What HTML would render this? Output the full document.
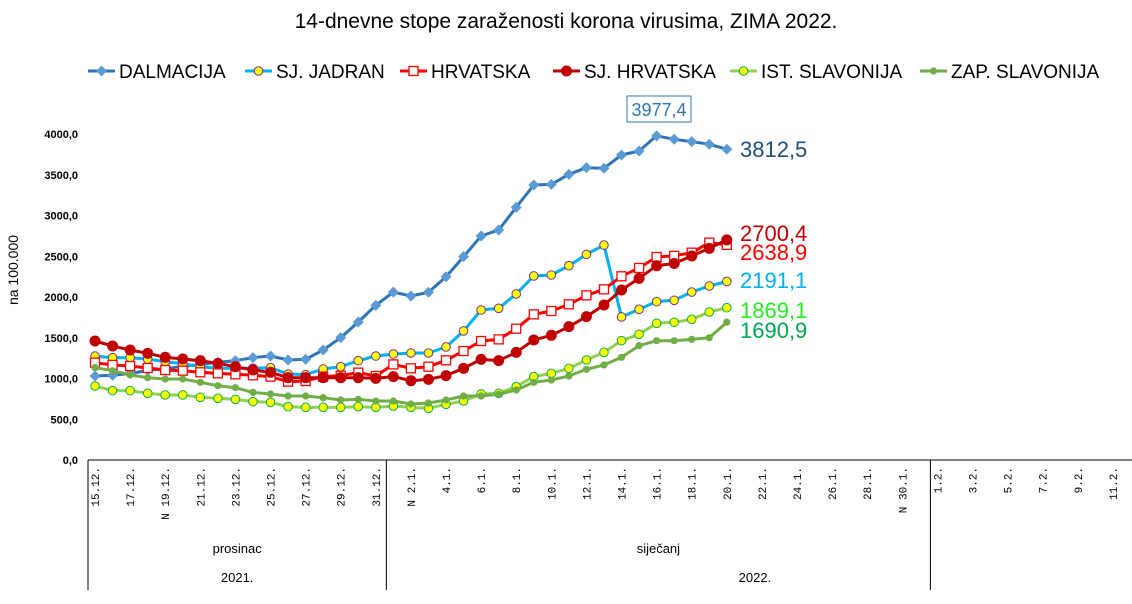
<!DOCTYPE html>
<html><head><meta charset="utf-8"><style>
html,body{margin:0;padding:0;background:#fff;}
svg{display:block;font-family:"Liberation Sans",sans-serif;}
</style></head><body>
<svg id="chart" width="1132" height="604" viewBox="0 0 1132 604">
<text x="566" y="28" font-size="21" text-anchor="middle" fill="#000">14-dnevne stope zaraženosti korona virusima, ZIMA 2022.</text>
<g id="legend"></g>
<g id="yaxis"></g>
<text transform="translate(18,270) rotate(-90)" font-size="14" text-anchor="middle">na 100.000</text>
<g id="xaxis"></g>
<g id="series"></g>
<g id="labels"></g>
</svg>
<script>
const dalmacija=[1031,1040,1060,1100,1120,1150,1170,1200,1219,1256,1276,1227,1235,1350,1501,1693,1898,2060,2012,2058,2249,2495,2748,2822,3100,3374,3382,3505,3587,3580,3742,3791,3977.4,3935,3907,3875,3812.5];
const sjJadran=[1276,1255,1255,1239,1206,1180,1145,1125,1125,1125,1133,1055,1047,1117,1145,1219,1276,1300,1313,1313,1387,1583,1840,1861,2037,2258,2270,2384,2523,2638,1755,1849,1943,1959,2061,2135,2191.1];
const hrvatska=[1194,1166,1153,1129,1104,1096,1076,1063,1051,1039,1023,961,969,1023,1035,1072,1031,1173,1125,1145,1223,1337,1460,1480,1611,1787,1828,1910,2020,2094,2254,2356,2491,2505,2544,2667,2638.9];
const sjHrvatska=[1460,1399,1350,1309,1260,1239,1219,1186,1145,1104,1076,1010,1010,1010,1010,1010,1002,1023,973,990,1035,1125,1235,1219,1321,1472,1530,1636,1759,1902,2086,2229,2384,2411,2503,2597,2700.4];
const istSlavonija=[908,851,851,818,798,798,769,757,744,716,708,654,646,646,646,654,646,662,646,634,683,724,810,818,900,1023,1063,1125,1227,1321,1464,1542,1677,1690,1726,1816,1869.1];
const zapSlavonija=[1133,1096,1043,1010,994,994,953,912,887,830,810,785,785,765,736,744,724,724,687,699,736,785,785,806,859,953,981,1031,1113,1166,1260,1403,1464,1464,1480,1501,1690.9];
const tickLabels=["15.12.","17.12.","N 19.12.","21.12.","23.12.","25.12.","27.12.","29.12.","31.12.","N  2.1.","4.1.","6.1.","8.1.","10.1.","12.1.","14.1.","16.1.","18.1.","20.1.","22.1.","24.1.","26.1.","28.1.","N 30.1.","1.2.","3.2.","5.2.","7.2.","9.2.","11.2."];
const yTicks=[0,500,1000,1500,2000,2500,3000,3500,4000];
const months=["prosinac","siječanj",""];
const monthDays=[17,31,28];
const years=["2021.","2022."];
const yearDays=[17,59];

const NS="http://www.w3.org/2000/svg";
const X0=88, DX=17.55, Y0=460, KY=0.0815;
const xs=i=>X0+DX*(i+0.4);
const ys=v=>Y0-v*KY;
function mk(tag,attrs,parent,txt){const e=document.createElementNS(NS,tag);for(const k in attrs)e.setAttribute(k,attrs[k]);if(txt!==undefined)e.textContent=txt;parent.appendChild(e);return e;}

const yg=document.getElementById('yaxis');
yTicks.forEach(v=>{const t=mk('text',{x:78,y:ys(v)+4,'font-size':11,'font-weight':'bold','text-anchor':'end'},yg,v.toFixed(1).replace('.',','));

});

const xg=document.getElementById('xaxis');
const al=mk('line',{x1:X0,y1:Y0,x2:1132,y2:Y0,stroke:'#000','stroke-width':1},xg);


tickLabels.forEach((l,k)=>{const x=xs(k*2)+4;const t=mk('text',{transform:`translate(${x},467) rotate(-90)`,'font-size':11,'font-family':'Liberation Mono, monospace','text-anchor':'end',fill:'#000','xml:space':'preserve'},xg,l);

});
let acc=0;
monthDays.forEach((d,k)=>{const xa=X0+acc*DX;acc+=d;const xb=X0+acc*DX;
const ln=mk('line',{x1:xa,y1:Y0,x2:xa,y2:590,stroke:'#000','stroke-width':1},xg);


if(months[k]){const t=mk('text',{x:(xa+xb)/2,y:553,'font-size':13,'text-anchor':'middle'},xg,months[k]);

}});
let ya=0;years.forEach((yv,k)=>{const xa=X0+ya*DX;const xb=X0+yearDays[k]*DX;ya=yearDays[k];
const t=mk('text',{x:(xa+xb)/2,y:582,'font-size':13,'text-anchor':'middle'},xg,yv);

});

const series=[
 {n:'dalmacija',name:'DALMACIJA',d:dalmacija,c:'#2e75b6',m:'diamond',mf:'#5b9bd5',ms:'#5b9bd5',lx:88},
 {n:'sj-jadran',name:'SJ. JADRAN',d:sjJadran,c:'#00b0f0',m:'circle',mf:'#ffff00',ms:'#7030a0',lx:245},
 {n:'hrvatska',name:'HRVATSKA',d:hrvatska,c:'#ff0000',m:'square',mf:'#ffffff',ms:'#ff0000',lx:400},
 {n:'sj-hrvatska',name:'SJ. HRVATSKA',d:sjHrvatska,c:'#c00000',m:'bigcircle',mf:'#c00000',ms:'#c00000',lx:553},
 {n:'ist-slavonija',name:'IST. SLAVONIJA',d:istSlavonija,c:'#92d050',m:'circle',mf:'#ffff00',ms:'#00b050',lx:730},
 {n:'zap-slavonija',name:'ZAP. SLAVONIJA',d:zapSlavonija,c:'#70ad47',m:'dot',mf:'#70ad47',ms:'#70ad47',lx:920}];
function marker(s,x,y,g){let e;
 if(s.m==='diamond')e=mk('path',{d:`M${x} ${y-5.5}L${x+5.5} ${y}L${x} ${y+5.5}L${x-5.5} ${y}Z`,fill:s.mf},g);
 else if(s.m==='circle')e=mk('circle',{cx:x,cy:y,r:4.3,fill:s.mf,stroke:s.ms,'stroke-width':1},g);
 else if(s.m==='square')e=mk('rect',{x:x-4.5,y:y-4.5,width:9,height:9,fill:s.mf,stroke:s.ms,'stroke-width':1.3},g);
 else if(s.m==='bigcircle')e=mk('circle',{cx:x,cy:y,r:5.5,fill:s.mf},g);
 else e=mk('circle',{cx:x,cy:y,r:3.6,fill:s.mf},g);
 return e;}
const sg=document.getElementById('series'), lg=document.getElementById('legend');
[0,1,2,4,5,3].forEach(k=>{const s=series[k];
 const g=mk('g',{},sg);
 
 
 const pts=s.d.map((v,i)=>xs(i).toFixed(1)+','+ys(v).toFixed(1)).join(' ');
 const pl=mk('polyline',{points:pts,fill:'none',stroke:s.c,'stroke-width':3,'stroke-linejoin':'round'},g);
 
 
 s.d.forEach((v,i)=>{const e=marker(s,xs(i),ys(v),g);
  
  });
});
series.forEach(s=>{const g=mk('g',{},lg);
 
 
 mk('line',{x1:s.lx,y1:71,x2:s.lx+27,y2:71,stroke:s.c,'stroke-width':3},g);
 marker(s,s.lx+13.5,71,g);
 mk('text',{x:s.lx+31,y:78,'font-size':19,fill:'#000'},g,s.name);});

const lab=document.getElementById('labels');
const ends=[
 {t:dalmacija[36],y:157,c:'#1f4e79'},
 {t:sjHrvatska[36],y:241,c:'#c00000'},
 {t:hrvatska[36],y:260,c:'#ff0000'},
 {t:sjJadran[36],y:288,c:'#00b0f0'},
 {t:istSlavonija[36],y:318,c:'#22ee22'},
 {t:zapSlavonija[36],y:338,c:'#00a650'}];
ends.forEach(e=>{const t=mk('text',{x:740,y:e.y,'font-size':22,fill:e.c},lab,e.t.toFixed(1).replace('.',','));
 
 });
const peak=Math.max(...dalmacija);
const bx=mk('rect',{x:627,y:96,width:64,height:26,fill:'#fff',stroke:'#2e75b6','stroke-width':1},lab);


const pt=mk('text',{x:659,y:116,'font-size':18,'text-anchor':'middle',fill:'#2e75b6'},lab,peak.toFixed(1).replace('.',','));


</script>
</body></html>
